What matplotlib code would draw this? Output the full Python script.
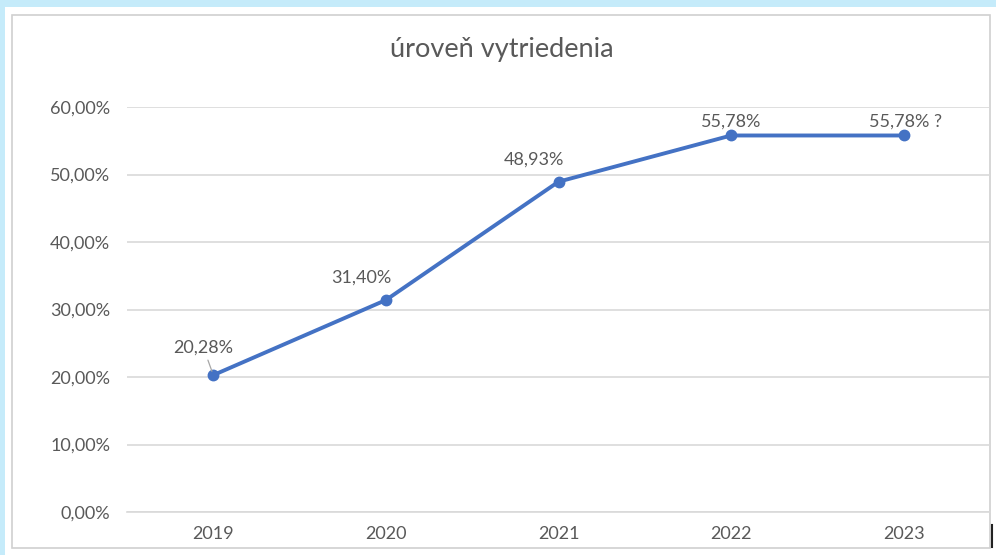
import matplotlib
matplotlib.use("Agg")
import matplotlib.pyplot as plt
from matplotlib.patches import Rectangle
from matplotlib.lines import Line2D

years = ["2019", "2020", "2021", "2022", "2023"]
values = [0.2028, 0.3140, 0.4893, 0.5578, 0.5578]
labels = ["20,28%", "31,40%", "48,93%", "55,78%", "55,78% ?"]
yticks = [0.0, 0.1, 0.2, 0.3, 0.4, 0.5, 0.6]
ytick_labels = ["0,00%", "10,00%", "20,00%", "30,00%", "40,00%", "50,00%", "60,00%"]
title = "úroveň vytriedenia"

plt.rcParams['font.family'] = ['Lato', 'DejaVu Sans']
W, H = 996, 555
fig = plt.figure(figsize=(W / 100, H / 100), dpi=100)
fig.patch.set_facecolor("#c5ebfa")

# white card and grey border
fig.add_artist(Rectangle((5 / W, 0), 1, 1 - 7 / H, transform=fig.transFigure,
                         facecolor="white", edgecolor="none", zorder=-2))
fig.add_artist(Rectangle((12 / W, 1 - 548 / H), (990 - 12) / W, (548 - 15) / H,
                         transform=fig.transFigure, facecolor="white",
                         edgecolor="#d0d0d0", linewidth=1.2, zorder=-1))
fig.add_artist(Line2D([992 / W, 992 / W], [1 - 547 / H, 1 - 525 / H],
                      transform=fig.transFigure, color="#222222", linewidth=1.5))

ax = fig.add_axes([127 / W, 1 - 512 / H, (990 - 127) / W, (512 - 107) / H])
ax.set_zorder(2)
ax.set_facecolor("none")
x = list(range(len(years)))
ax.plot(x, values, color="#4472C4", linewidth=2.8, marker="o", markersize=7.5,
        solid_capstyle="round", zorder=3, clip_on=False)
ax.set_xlim(-0.5, len(years) - 0.5)
ax.set_ylim(0, 0.6)
ax.set_yticks(yticks)
ax.set_yticklabels(ytick_labels)
ax.set_xticks(x)
ax.set_xticklabels(years)
ax.grid(axis="y", color="#d9d9d9", linewidth=1.2)
ax.set_axisbelow(True)
for s in ["top", "right", "left"]:
    ax.spines[s].set_visible(False)
ax.spines["bottom"].set_color("#d9d9d9")
ax.spines["bottom"].set_linewidth(1.2)
ax.tick_params(axis="both", length=0, colors="#595959", labelsize=13)
ax.tick_params(axis="y", pad=12)
ax.tick_params(axis="x", pad=10)

offsets = [(-7, 19.5), (-18, 16), (-18, 16), (0, 10), (1.5, 10)]
for i, (v, lab) in enumerate(zip(values, labels)):
    off = offsets[i]
    if i == 0:
        ax.annotate(lab, (i, v), xytext=off, textcoords="offset points",
                    ha="center", va="center", color="#595959", fontsize=13,
                    arrowprops=dict(arrowstyle="-", color="#a6a6a6", lw=0.9,
                                    shrinkA=1, shrinkB=3))
    else:
        ax.annotate(lab, (i, v), xytext=off, textcoords="offset points",
                    ha="center", va="center", color="#595959", fontsize=13)

fig.text(502 / W, 1 - 50 / H, title, ha="center", va="center",
         fontsize=19.5, color="#595959")

fig.savefig("out.png", dpi=100, facecolor=fig.get_facecolor())
